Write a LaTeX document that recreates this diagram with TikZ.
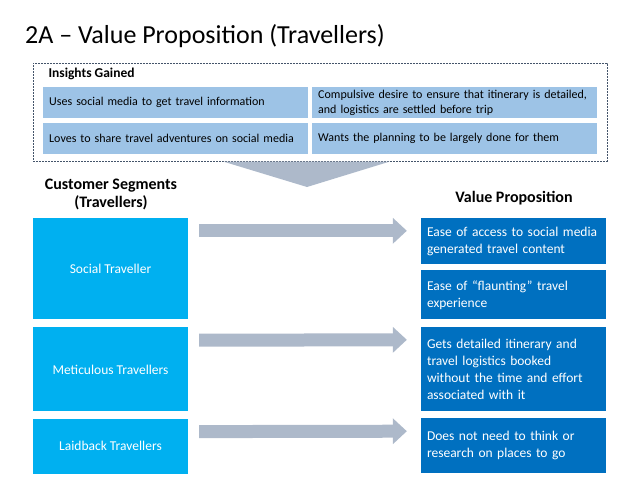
\documentclass[tikz,border=0pt]{standalone}
\usepackage{fontspec}
\setmainfont{Carlito}
\definecolor{vpcyan}{RGB}{0,176,240}
\definecolor{vpblue}{RGB}{0,112,192}
\definecolor{vpcell}{RGB}{157,195,230}
\definecolor{vpgray}{RGB}{173,185,202}
\definecolor{vpframe}{RGB}{68,84,106}
\usetikzlibrary{arrows.meta,positioning,calc}

\begin{document}
\begin{tikzpicture}[x=1pt, y=-1pt,
  insightcell/.style={fill=vpcell, anchor=west, minimum height=31pt, inner xsep=6pt, inner ysep=1pt,
    align=left, font=\fontsize{12}{15}\selectfont},
  headtext/.style={font=\fontsize{16}{18}\selectfont\bfseries, align=center},
  segbox/.style={fill=vpcyan, text=white, minimum width=155pt, font=\fontsize{13.5}{17}\selectfont},
  valbox/.style={fill=vpblue, text=white, text width=173pt, inner xsep=6pt, inner ysep=1pt,
    align=left, font=\fontsize{13.5}{17}\selectfont},
  flowarrow/.style={vpgray, line width=13pt, -{Triangle[length=14pt, width=26pt, line width=0pt]}}]

\useasboundingbox (0,0) rectangle (638,479);

% --- Title ---
\node[font=\fontsize{26}{30}\selectfont, anchor=base west, inner sep=0pt] (title) at (25,43) {2A – Value Proposition (Travellers)};

% --- Insights gained ---
\node[draw=vpframe, dashed, dash pattern=on 2pt off 1pt, thin, minimum width=574pt, minimum height=98pt] (insights) at (320,112) {};
\node[font=\fontsize{13.5}{15}\selectfont\bfseries, anchor=west] (gained) at (45,74) {Insights Gained};

\node[insightcell, text width=253pt] (usesmedia) at (43,102.5) {Uses social media to get travel information};
\node[insightcell, text width=273pt] (compulsive) at (312,102.5) {Compulsive desire to ensure that itinerary is detailed,\\and logistics are settled before trip};
\node[insightcell, text width=253pt] (sharemedia) at (43,138.5) {Loves to share travel adventures on social media};
\node[insightcell, text width=273pt] (planning) at (312,138.5) {Wants the planning to be largely done for them};

% Down chevron
\fill[vpgray] (223,161.5) -- (390,161.5) -- (307,187) -- cycle;

% --- Column headers ---
\node[headtext] (seghead) at (111,194.5) {Customer Segments\\(Travellers)};
\node[headtext] (valhead) at (514,198) {Value Proposition};

% --- Customer segments ---
\node[segbox, minimum height=101pt] (social) at (110.5,268.5) {Social Traveller};
\node[segbox, minimum height=84pt, below=8pt of social] (meticulous) {Meticulous Travellers};
\node[segbox, minimum height=55pt, below=7pt of meticulous] (laidback) {Laidback Travellers};

% --- Value proposition ---
\node[valbox, minimum height=46pt] (easeaccess) at (513.5,241) {\mbox{Ease of access to social media}\\generated travel content};
\node[valbox, minimum height=49pt, below=6pt of easeaccess] (flaunt) {Ease of “flaunting” travel\\experience};
\node[valbox, minimum height=84pt] (itinerary) at (513.5,369) {Gets detailed itinerary and\\travel logistics booked\\without the time and effort\\associated with it};
\node[valbox, minimum height=55pt, below=7pt of itinerary] (noresearch) {Does not need to think or\\research on places to go};

% Arrows
\draw[flowarrow] ($(social.north east)+(11,13)$) -- ($(easeaccess.north west)+(-14,13)$);
\draw[flowarrow] ($(meticulous.north east)+(11,13)$) -- ($(itinerary.north west)+(-14,13)$);
\draw[flowarrow] ($(laidback.north east)+(11,13)$) -- ($(noresearch.north west)+(-14,13)$);

\end{tikzpicture}
\end{document}
